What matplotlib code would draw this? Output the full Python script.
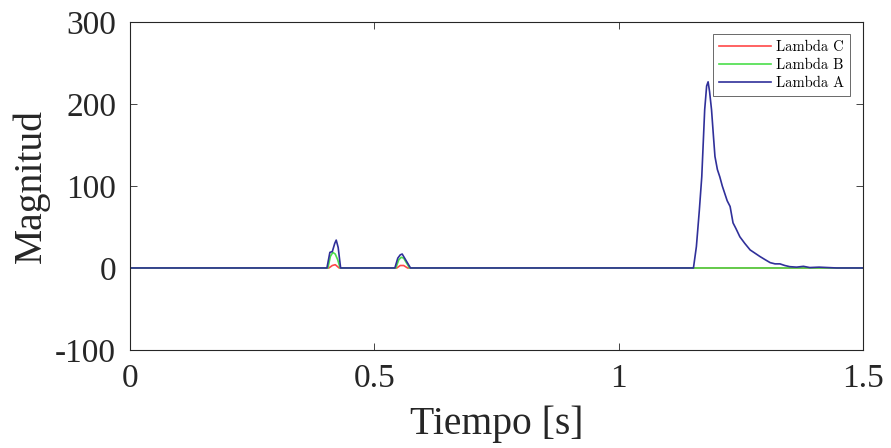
import matplotlib
matplotlib.use("Agg")
import matplotlib.pyplot as plt

# Lambda A (blue)
t_a = [0, 0.403, 0.409, 0.414, 0.419, 0.422, 0.426, 0.431,
       0.542, 0.548, 0.553, 0.557, 0.563, 0.568, 0.574,
       1.153, 1.159, 1.165, 1.170, 1.176, 1.180, 1.183, 1.186, 1.190, 1.194,
       1.197, 1.202, 1.207, 1.212, 1.217, 1.222, 1.228, 1.234, 1.240, 1.248,
       1.258, 1.269, 1.279, 1.289, 1.300, 1.310, 1.320, 1.330, 1.340, 1.350,
       1.364, 1.378, 1.391, 1.410, 1.446, 1.5]
v_a = [0, 0, 19, 20, 30, 34, 25, 0,
       0, 12, 16, 17, 11, 6, 0,
       0, 26, 70, 111, 193, 222, 227, 215, 193, 160,
       136, 120, 111, 100, 91, 82, 75, 55, 48, 38,
       30, 22, 18, 14, 10, 6.5, 5, 5, 3, 1.6,
       1, 2, 0.5, 1, 0, 0]

# Lambda B (green)
t_b = [0, 0.405, 0.410, 0.415, 0.420, 0.425, 0.430,
       0.544, 0.550, 0.555, 0.560, 0.566, 0.572, 1.5]
v_b = [0, 0, 14, 19, 17, 10, 0,
       0, 10, 13, 12, 6, 0, 0]

# Lambda C (red)
t_c = [0, 0.407, 0.414, 0.420, 0.428,
       0.546, 0.553, 0.560, 0.568, 1.5]
v_c = [0, 0, 3, 4, 0,
       0, 3, 3, 0, 0]

plt.rcParams['font.family'] = 'Liberation Serif'
plt.rcParams['axes.unicode_minus'] = False

fig = plt.figure(figsize=(8.91, 4.48), dpi=100)
ax = fig.add_axes([0.1459, 0.2188, 0.8227, 0.7322])

ax.plot(t_c, v_c, color='#ff4848', lw=1.2, label='Lambda C')
ax.plot(t_b, v_b, color='#4ade4a', lw=1.2, label='Lambda B')
ax.plot(t_a, v_a, color='#30309a', lw=1.2, label='Lambda A')

ax.set_xlim(0, 1.5)
ax.set_ylim(-100, 300)
ax.set_xticks([0, 0.5, 1, 1.5])
ax.set_xticklabels(['0', '0.5', '1', '1.5'])
ax.set_yticks([-100, 0, 100, 200, 300])
ax.tick_params(direction='in', length=5, width=0.6, labelsize=24,
               top=True, right=True, colors='#262626', pad=10)
for s in ax.spines.values():
    s.set_linewidth(0.8)
    s.set_color('#262626')

ax.set_xlabel('Tiempo [s]', fontsize=28.5, color='#262626', labelpad=8)
ax.set_ylabel('Magnitud', fontsize=28.5, color='#262626', labelpad=4)

leg = ax.legend(loc='upper right', bbox_to_anchor=(0.982, 0.962),
                borderaxespad=0, fancybox=False, edgecolor='#262626',
                prop={'family': 'cmr10', 'size': 10.5},
                handlelength=3.6, labelspacing=0.3, handletextpad=0.3,
                borderpad=0.4)
leg.get_frame().set_linewidth(0.6)

fig.savefig('out.png', dpi=100)
